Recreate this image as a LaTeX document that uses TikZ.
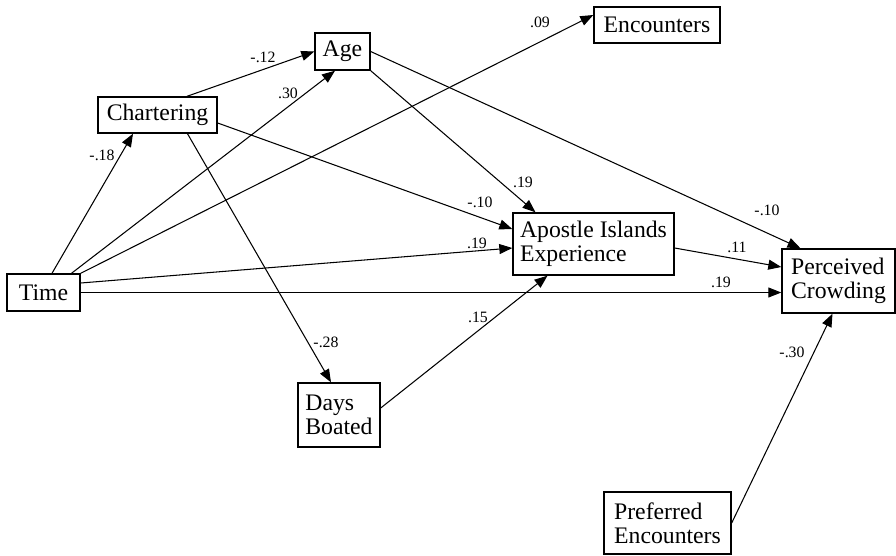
\documentclass[tikz,border=0pt]{standalone}
\usepackage{fontspec}
\setmainfont{Liberation Serif}
\usetikzlibrary{arrows.meta,calc}

\begin{document}
\begin{tikzpicture}[x=0.02cm, y=-0.02cm, >={Triangle[length=2.6mm,width=2mm]},
    box/.style={draw, line width=0.8pt, inner sep=0pt, align=left,
                font=\fontsize{13.5}{13.5}\selectfont},
    lbl/.style={inner sep=0pt, font=\fontsize{9}{10}\selectfont},
    link/.style={->, line width=0.6pt}]
  \useasboundingbox (0,0) rectangle (896,555);

  % variables
  \node[box, minimum width=1.46cm, minimum height=0.74cm] (Time) at (43.5,292.5) {Time};
  \node[box, minimum width=2.38cm, minimum height=0.72cm] (Chart) at (157.5,115) {Chartering};
  \node[box, minimum width=1.10cm, minimum height=0.74cm] (Age) at (342.5,51.5) {Age};
  \node[box, minimum width=2.52cm, minimum height=0.72cm] (Enc) at (657,25) {Encounters};
  \node[box, minimum width=3.22cm, minimum height=1.24cm] (Apostle) at (593.5,244)
        {Apostle Islands\\Experience};
  \node[box, minimum width=2.26cm, minimum height=1.28cm] (Crowd) at (838.5,281)
        {Perceived\\Crowding};
  \node[box, minimum width=1.64cm, minimum height=1.28cm] (Days) at (339,415)
        {Days\\Boated};
  \node[box, minimum width=2.54cm, minimum height=1.24cm] (Pref) at (667.5,523)
        {Preferred\\Encounters};

  % paths from Time
  \draw[link] ($(Time.north)+(8.5,0)$) -- ($(Chart.south)+(-24.5,0)$);
  \draw[link] ($(Time.north)+(28,0)$) -- ($(Age.south)+(-7.5,0)$);
  \draw[link] (Time.north east) -- ($(Enc.west)+(0,-10)$);
  \draw[link] ($(Time.east)+(0,-9.5)$) -- ($(Apostle.west)+(0,4)$);
  \draw[link] (Time.east) -- ($(Crowd.west)+(0,11.5)$);

  % paths from Chartering
  \draw[link] ($(Chart.north)+(29.5,0)$) -- (Age.west);
  \draw[link] ($(Chart.east)+(0,8)$) -- ($(Apostle.west)+(0,-15)$);
  \draw[link] ($(Chart.south)+(30,0)$) -- ($(Days.north)+(-8,0)$);

  % the rest
  \draw[link] (Age.south east) -- ($(Apostle.north)+(-58,0)$);
  \draw[link] (Age.east) -- ($(Crowd.north)+(-38,0)$);
  \draw[link] ($(Apostle.east)+(0,4)$) -- ($(Crowd.west)+(0,-14)$);
  \draw[link] ($(Days.east)+(0,-7)$) -- ($(Apostle.south)+(-46,0)$);
  \draw[link] (Pref.east) -- ($(Crowd.south)+(-6,0)$);

  % coefficients
  \node[lbl] (wTC) at (102,155) {-.18};
  \node[lbl] (wTA) at (288,93) {.30};
  \node[lbl] (wCA) at (263,57) {-.12};
  \node[lbl] (wTE) at (540,22) {.09};
  \node[lbl] (wAAp) at (523,182) {.19};
  \node[lbl] (wCAp) at (480,202) {-.10};
  \node[lbl] (wACr) at (767,210) {-.10};
  \node[lbl] (wTAp) at (477,243) {.19};
  \node[lbl] (wApCr) at (737,247) {.11};
  \node[lbl] (wTCr) at (721,282) {.19};
  \node[lbl] (wDAp) at (478,317) {.15};
  \node[lbl] (wPCr) at (792,352) {-.30};
  \node[lbl] (wCD) at (326,342) {-.28};
\end{tikzpicture}
\end{document}
